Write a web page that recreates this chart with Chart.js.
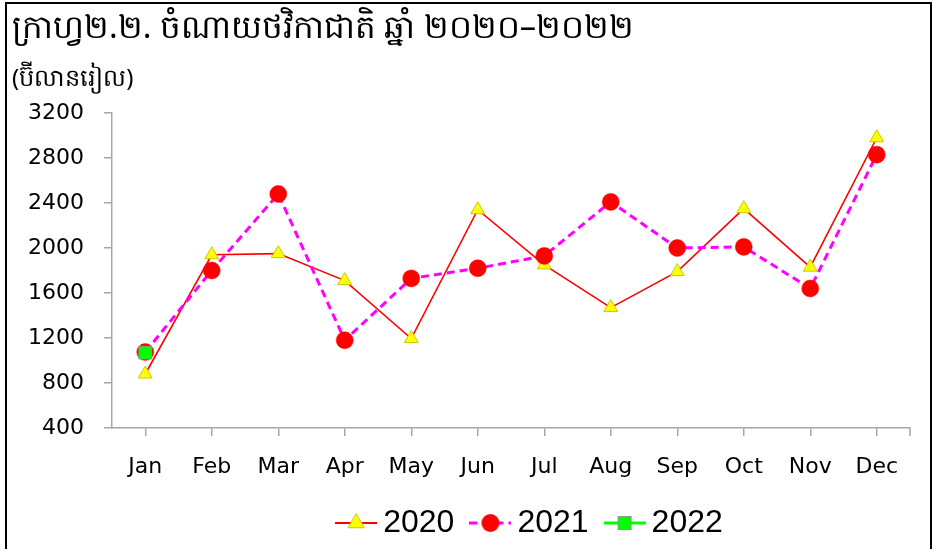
<!DOCTYPE html>
<html>
<head>
<meta charset="utf-8">
<script src="https://cdn.jsdelivr.net/npm/chart.js@4/dist/chart.umd.min.js"></script>
<style>
  html, body { margin: 0; padding: 0; background: #ffffff; }
  #wrap { position: relative; width: 938px; height: 549px; overflow: hidden; }
  #c { position: absolute; left: 0; top: 0; }
  #frame { position: absolute; left: 5px; top: 2px; width: 927px; height: 600px;
           box-sizing: border-box; border: 2px solid #000; pointer-events: none; }
</style>
</head>
<body>
<div id="wrap">
  <canvas id="c" width="938" height="549"></canvas>
  <div id="frame"></div>
</div>
<script>
// ---- data ----
const titleText = 'ក្រាហ្វ២.២. ចំណាយថវិកាជាតិ ឆ្នាំ ២០២០–២០២២';
const unitText = '(ប៊ីលានរៀល)';
const months = ['Jan','Feb','Mar','Apr','May','Jun','Jul','Aug','Sep','Oct','Nov','Dec'];
const seriesNames = ['2020','2021','2022'];
const values2020 = [880, 1940, 1950, 1710, 1195, 2340, 1850, 1470, 1790, 2350, 1830, 2980];
const values2021 = [1075, 1800, 2480, 1180, 1730, 1820, 1930, 2410, 2000, 2010, 1640, 2830];
const values2022 = [1070];
const yMin = 400, yMax = 3200, yStep = 400;

// ---- legend swatches (line + marker) ----
function swatch(lineColor, lineWidth, dash, drawMarker) {
  const cv = document.createElement('canvas');
  cv.width = 42; cv.height = 30;
  const g = cv.getContext('2d');
  g.strokeStyle = lineColor; g.lineWidth = lineWidth; g.setLineDash(dash);
  g.beginPath(); g.moveTo(0, 15); g.lineTo(42, 15); g.stroke();
  g.setLineDash([]);
  drawMarker(g, 21, 15);
  return cv;
}
const legendImgs = [
  swatch('#ff0000', 2, [], (g, x, y) => {
    const r = 9.5;
    g.beginPath();
    g.moveTo(x, y - r);
    g.lineTo(x + r * 0.866, y + r * 0.5);
    g.lineTo(x - r * 0.866, y + r * 0.5);
    g.closePath();
    g.fillStyle = '#ffff00'; g.fill();
    g.strokeStyle = '#c8c800'; g.lineWidth = 1; g.stroke();
  }),
  swatch('#ff00ff', 3, [8, 5], (g, x, y) => {
    g.beginPath(); g.arc(x, y, 9, 0, Math.PI * 2);
    g.fillStyle = '#ff0000'; g.fill();
  }),
  swatch('#00ff00', 3, [], (g, x, y) => {
    g.fillStyle = '#00ff00'; g.fillRect(x - 6.5, y - 6.5, 13, 13);
    g.strokeStyle = '#7fa07f'; g.lineWidth = 1; g.strokeRect(x - 6.5, y - 6.5, 13, 13);
  })
];

const legendShift = {
  id: 'legendShift',
  afterLayout(chart) {
    const lg = chart.legend;
    if (lg) { lg.left += 73; lg.right += 73; }
  }
};

const axisGray = '#a6a6a6';
const endTick = {
  id: 'endTick',
  afterDraw(chart) {
    const a = chart.chartArea, ctx = chart.ctx;
    ctx.save();
    ctx.strokeStyle = axisGray; ctx.lineWidth = 1.5;
    ctx.beginPath(); ctx.moveTo(a.right, a.bottom); ctx.lineTo(a.right, a.bottom + 8); ctx.stroke();
    ctx.restore();
  }
};

const tickFont = { family: '"DejaVu Sans", Verdana, sans-serif', size: 22 };

new Chart(document.getElementById('c'), {
  type: 'line',
  data: {
    labels: months,
    datasets: [
      {
        label: seriesNames[0], data: values2020, order: 3,
        borderColor: '#ff0000', borderWidth: 1.6, tension: 0,
        pointStyle: 'triangle', pointRadius: 8, pointHoverRadius: 8,
        pointBackgroundColor: '#ffff00', pointBorderColor: '#c8c800', pointBorderWidth: 1
      },
      {
        label: seriesNames[1], data: values2021, order: 2,
        borderColor: '#ff00ff', borderWidth: 3, borderDash: [8, 5], tension: 0,
        pointStyle: 'circle', pointRadius: 8.5, pointHoverRadius: 8.5,
        pointBackgroundColor: '#ff0000', pointBorderColor: '#ff0000', pointBorderWidth: 0.5
      },
      {
        label: seriesNames[2], data: values2022, order: 1,
        borderColor: '#00ff00', borderWidth: 3, tension: 0,
        pointStyle: 'rect', pointRadius: 9, pointHoverRadius: 9,
        pointBackgroundColor: '#00ff00', pointBorderColor: '#7fa07f', pointBorderWidth: 1
      }
    ]
  },
  options: {
    responsive: false,
    animation: false,
    events: [],
    layout: { padding: { left: 12, right: 28, top: 0, bottom: 0 } },
    plugins: {
      title: {
        display: true, text: titleText, align: 'start', color: '#000',
        font: { family: '"Noto Sans", "DejaVu Sans", sans-serif', size: 32.5, weight: 'normal', lineHeight: 1.2 },
        padding: { top: 9, bottom: 4 }
      },
      subtitle: {
        display: true, text: unitText, align: 'start', color: '#000',
        font: { family: '"Noto Sans", "DejaVu Sans", sans-serif', size: 24, weight: 'normal', lineHeight: 1.2 },
        padding: { top: 13, bottom: 19.2 }
      },
      legend: {
        display: true, position: 'bottom', align: 'center',
        labels: {
          usePointStyle: true, pointStyleWidth: 22, padding: 25, color: '#000',
          font: { family: '"Liberation Sans", Arial, sans-serif', size: 32 },
          generateLabels(chart) {
            const items = Chart.defaults.plugins.legend.labels.generateLabels(chart);
            items.forEach(it => { it.pointStyle = legendImgs[it.datasetIndex]; });
            return items;
          },
          sort: (a, b) => a.datasetIndex - b.datasetIndex
        }
      },
      tooltip: { enabled: false }
    },
    scales: {
      x: {
        offset: true,
        grid: { display: true, drawOnChartArea: false, drawTicks: true, tickLength: 8, color: axisGray, lineWidth: 1.5, offset: false },
        border: { display: true, color: axisGray, width: 1.5 },
        ticks: { color: '#000', font: tickFont, padding: 18, maxRotation: 0, autoSkip: false },
        afterFit(scale) { scale.height = 54; }
      },
      y: {
        min: yMin, max: yMax,
        grid: { display: true, drawOnChartArea: false, drawTicks: true, tickLength: 8, color: axisGray, lineWidth: 1.5 },
        border: { display: true, color: axisGray, width: 1.5 },
        ticks: { stepSize: yStep, color: '#000', font: tickFont, padding: 20, callback: (v) => String(v) },
        afterFit(scale) { scale.width = 100; }
      }
    }
  },
  plugins: [legendShift, endTick]
});
</script>
</body>
</html>
